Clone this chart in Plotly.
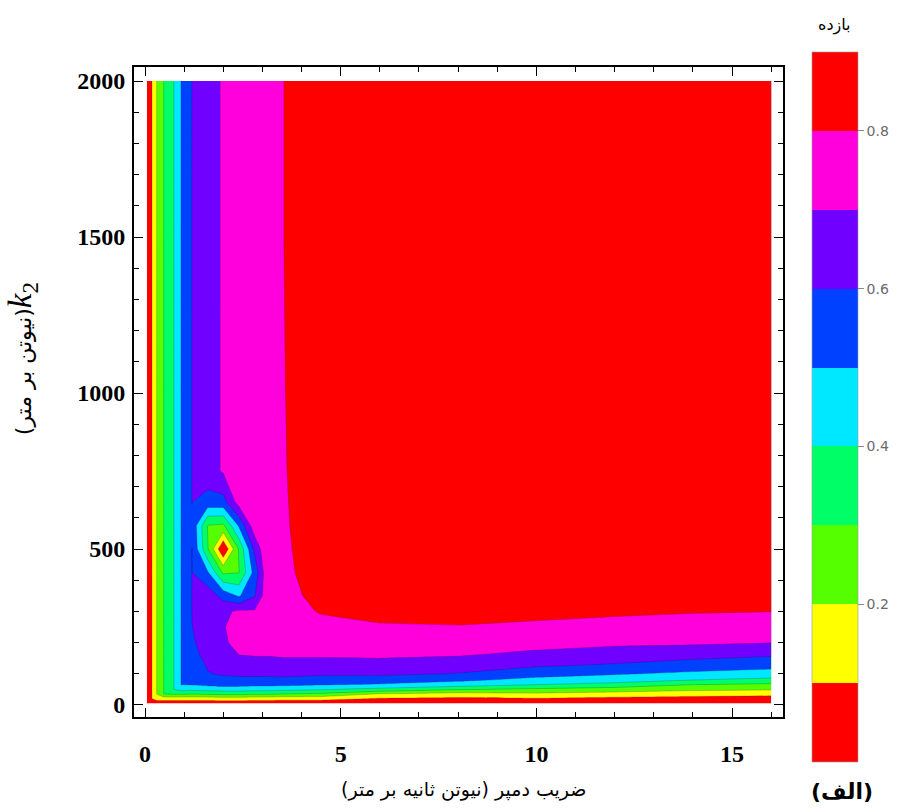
import plotly.graph_objects as go

# damping coefficient (N.s/m) grid and stiffness k2 (N/m) grid
damping = [0.05, 0.18, 0.3, 0.48, 0.74, 0.92, 1.2, 1.6, 2.0, 2.4, 2.8, 3.1, 3.5, 4.5, 6, 8, 10, 12, 14, 16]
stiffness = [5, 20, 35, 50, 65, 80, 100, 130, 160, 200, 250, 300, 350, 425, 500, 575, 650, 750, 1000, 1500, 2000]

# efficiency values, one list per stiffness row
eff_k0005 = [0.02, 0.03, 0.03, 0.03, 0.03, 0.03, 0.03, 0.03, 0.03, 0.03, 0.03, 0.03, 0.03, 0.03, 0.02, 0.02, 0.02, 0.02, 0.02, 0.02]
eff_k0020 = [0.03, 0.101, 0.14, 0.14, 0.14, 0.14, 0.14, 0.14, 0.15, 0.15, 0.14, 0.14, 0.13, 0.13, 0.09, 0.08, 0.09, 0.07, 0.06, 0.05]
eff_k0035 = [0.03, 0.101, 0.201, 0.301, 0.31, 0.31, 0.30, 0.31, 0.32, 0.32, 0.31, 0.31, 0.30, 0.28, 0.19, 0.16, 0.18, 0.16, 0.14, 0.13]
eff_k0050 = [0.03, 0.101, 0.201, 0.301, 0.401, 0.44, 0.43, 0.44, 0.45, 0.45, 0.44, 0.44, 0.43, 0.41, 0.37, 0.31, 0.28, 0.25, 0.22, 0.21]
eff_k0065 = [0.03, 0.101, 0.201, 0.301, 0.401, 0.501, 0.505, 0.52, 0.53, 0.53, 0.525, 0.525, 0.52, 0.505, 0.49, 0.45, 0.40, 0.37, 0.30, 0.28]
eff_k0080 = [0.03, 0.101, 0.201, 0.301, 0.401, 0.501, 0.51, 0.56, 0.575, 0.58, 0.58, 0.58, 0.58, 0.565, 0.55, 0.52, 0.47, 0.44, 0.40, 0.37]
eff_k0100 = [0.03, 0.101, 0.201, 0.301, 0.401, 0.501, 0.53, 0.595, 0.61, 0.615, 0.615, 0.615, 0.62, 0.615, 0.62, 0.595, 0.54, 0.51, 0.48, 0.46]
eff_k0130 = [0.03, 0.101, 0.201, 0.301, 0.401, 0.501, 0.555, 0.61, 0.64, 0.66, 0.665, 0.665, 0.67, 0.67, 0.67, 0.66, 0.62, 0.595, 0.565, 0.54]
eff_k0160 = [0.03, 0.101, 0.201, 0.301, 0.401, 0.501, 0.57, 0.63, 0.665, 0.70, 0.705, 0.705, 0.71, 0.71, 0.715, 0.705, 0.68, 0.65, 0.63, 0.61]
eff_k0200 = [0.03, 0.101, 0.201, 0.301, 0.401, 0.501, 0.585, 0.65, 0.69, 0.72, 0.735, 0.735, 0.74, 0.745, 0.75, 0.75, 0.73, 0.72, 0.715, 0.702]
eff_k0250 = [0.03, 0.101, 0.201, 0.301, 0.401, 0.501, 0.598, 0.66, 0.695, 0.73, 0.75, 0.755, 0.76, 0.78, 0.795, 0.798, 0.79, 0.78, 0.765, 0.755]
eff_k0300 = [0.03, 0.101, 0.201, 0.301, 0.401, 0.501, 0.601, 0.66, 0.68, 0.715, 0.71, 0.77, 0.772, 0.805, 0.815, 0.815, 0.815, 0.81, 0.805, 0.801]
eff_k0350 = [0.03, 0.101, 0.201, 0.301, 0.401, 0.501, 0.601, 0.66, 0.564, 0.489, 0.594, 0.75, 0.783, 0.815, 0.825, 0.83, 0.835, 0.83, 0.825, 0.82]
eff_k0425 = [0.03, 0.101, 0.201, 0.301, 0.401, 0.501, 0.601, 0.513, 0.282, 0.297, 0.538, 0.75, 0.79, 0.82, 0.83, 0.84, 0.845, 0.845, 0.845, 0.84]
eff_k0500 = [0.03, 0.101, 0.201, 0.301, 0.401, 0.501, 0.601, 0.31, 0.0, 0.31, 0.62, 0.775, 0.793, 0.82, 0.835, 0.845, 0.85, 0.855, 0.855, 0.85]
eff_k0575 = [0.03, 0.101, 0.201, 0.301, 0.401, 0.501, 0.58, 0.297, 0.282, 0.513, 0.765, 0.776, 0.795, 0.82, 0.84, 0.85, 0.855, 0.86, 0.86, 0.86]
eff_k0650 = [0.03, 0.101, 0.201, 0.301, 0.401, 0.501, 0.601, 0.56, 0.564, 0.74, 0.765, 0.777, 0.796, 0.82, 0.84, 0.85, 0.86, 0.865, 0.865, 0.865]
eff_k0750 = [0.03, 0.101, 0.201, 0.301, 0.401, 0.501, 0.601, 0.66, 0.71, 0.74, 0.765, 0.778, 0.797, 0.82, 0.84, 0.85, 0.86, 0.865, 0.87, 0.87]
eff_k1000 = [0.03, 0.101, 0.201, 0.301, 0.401, 0.501, 0.601, 0.66, 0.71, 0.74, 0.765, 0.78, 0.798, 0.82, 0.84, 0.85, 0.86, 0.865, 0.87, 0.87]
eff_k1500 = [0.03, 0.101, 0.201, 0.301, 0.401, 0.501, 0.601, 0.66, 0.71, 0.74, 0.765, 0.78, 0.799, 0.82, 0.84, 0.85, 0.86, 0.865, 0.87, 0.87]
eff_k2000 = [0.03, 0.101, 0.201, 0.301, 0.401, 0.501, 0.601, 0.66, 0.71, 0.74, 0.765, 0.78, 0.799, 0.82, 0.84, 0.85, 0.86, 0.865, 0.87, 0.87]

efficiency = [eff_k0005, eff_k0020, eff_k0035, eff_k0050, eff_k0065, eff_k0080, eff_k0100,
              eff_k0130, eff_k0160, eff_k0200, eff_k0250, eff_k0300, eff_k0350, eff_k0425,
              eff_k0500, eff_k0575, eff_k0650, eff_k0750, eff_k1000, eff_k1500, eff_k2000]

band_colors = ["#ff0000", "#ffff00", "#55ff00", "#00ff66", "#00e8ff",
               "#0040ff", "#7000ff", "#ff00dd", "#ff0000"]
level_start, level_end, level_step = 0.1, 0.8, 0.1
cbar_ticks = [0.2, 0.4, 0.6, 0.8]
x_ticks = [0, 5, 10, 15]
y_ticks = [0, 500, 1000, 1500, 2000]

x_title = "\u200fضریب دمپر (نیوتن ثانیه بر متر)\u200f"
y_title_unit = "\u200f(نیوتن بر متر)\u200f"
cbar_title = "بازده"
panel_label = "(الف)"

n_b = len(band_colors)
contour_scale = [[k / (n_b - 1), c] for k, c in enumerate(band_colors)]
bar_scale = []
for k, c in enumerate(band_colors):
    bar_scale.append([k / n_b, c])
    bar_scale.append([(k + 1) / n_b, c])

fig = go.Figure()
fig.add_trace(go.Contour(
    x=damping, y=stiffness, z=efficiency,
    contours=dict(start=level_start, end=level_end, size=level_step, coloring="fill"),
    colorscale=contour_scale, showscale=False,
    line=dict(width=0.6, color="rgba(40,0,40,0.35)", smoothing=0),
    hoverinfo="skip",
))
fig.add_trace(go.Scatter(
    x=[8], y=[1000], mode="markers", hoverinfo="skip", showlegend=False,
    marker=dict(size=1, opacity=0, color=[0.5], cmin=0, cmax=0.9,
                colorscale=bar_scale, showscale=True,
                colorbar=dict(x=1.0447, xanchor="left", y=0.477, yanchor="middle",
                              len=710, lenmode="pixels", thickness=46, thicknessmode="pixels",
                              xpad=0, ypad=0, outlinewidth=0.6, outlinecolor="#999",
                              tickvals=cbar_ticks, ticktext=[f"{v:.1f}" for v in cbar_ticks],
                              ticks="outside", ticklen=6, tickcolor="#888", tickwidth=1,
                              tickfont=dict(family="DejaVu Sans", size=14, color="#6a6a6a"))),
))

tickfont = dict(family="Liberation Serif", size=24, color="black", weight="bold")
fig.update_xaxes(range=[-0.281, 16.30], tickvals=x_ticks, ticks="inside", ticklen=9, tickwidth=1.3,
                 tickcolor="black", showline=True, linecolor="black", linewidth=2, mirror="allticks",
                 showgrid=False, zeroline=False, tickfont=tickfont, ticklabelstandoff=14,
                 minor=dict(dtick=1, tick0=0, ticks="inside", ticklen=5, tickwidth=1.1, tickcolor="black", showgrid=False))
fig.update_yaxes(range=[-38.5, 2045], tickvals=y_ticks, ticks="inside", ticklen=9, tickwidth=1.3,
                 tickcolor="black", showline=True, linecolor="black", linewidth=2, mirror="allticks",
                 showgrid=False, zeroline=False, tickfont=tickfont, ticklabelstandoff=2,
                 minor=dict(dtick=100, tick0=0, ticks="inside", ticklen=5, tickwidth=1.1, tickcolor="black", showgrid=False))

fig.add_annotation(text=x_title, x=0.507, y=-0.112, xref="paper", yref="paper", showarrow=False,
                   xanchor="center", yanchor="middle", font=dict(family="DejaVu Sans", size=19, color="black"))
fig.add_annotation(text=("<span style='font-family:DejaVu Sans;font-size:22px'>" + y_title_unit + "</span>"
                         "<i>k</i><sub>2</sub>"),
                   x=-0.1726, y=0.552, xref="paper", yref="paper", showarrow=False, textangle=-90,
                   xanchor="center", yanchor="middle",
                   font=dict(family="Liberation Serif", size=33, color="black"))
fig.add_annotation(text=cbar_title, x=1.080, y=1.065, xref="paper", yref="paper", showarrow=False,
                   xanchor="center", yanchor="middle", font=dict(family="DejaVu Sans", size=16, color="black"))
fig.add_annotation(text=panel_label, x=1.091, y=-0.115, xref="paper", yref="paper", showarrow=False,
                   xanchor="center", yanchor="middle",
                   font=dict(family="DejaVu Sans", size=22, color="black", weight="bold"))

fig.update_layout(width=904, height=812, margin=dict(l=134, r=121, t=67, b=95),
                  paper_bgcolor="white", plot_bgcolor="white", showlegend=False)
fig.write_html("out.html", config={"displayModeBar": False},
               post_script="document.body.style.margin='0px';")
